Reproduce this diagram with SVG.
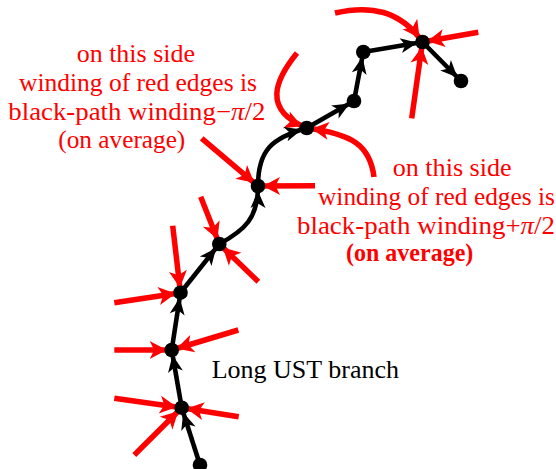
<svg xmlns="http://www.w3.org/2000/svg" width="556" height="469" viewBox="0 0 556 469">
<style>
.red{fill:none;stroke:#ff0000;stroke-width:5.5}
.blk{fill:none;stroke:#000;stroke-width:4.6}
.node{fill:#000}
.t{font-family:"Liberation Serif","Times New Roman",serif;font-size:25px}
.rt{fill:#ff0000}
</style>
<defs>
<path id="rh" d="M-5,0 L-22,-9 L-17.5,0 L-22,9 z" fill="#ff0000"/>
<path id="bh" d="M-5,0 L-22,-7.5 L-17.5,0 L-22,7.5 z" fill="#000"/>
</defs>
<g id="connectors">
<path class="red" d="M114.3,398.3 L181.7,407.7"/>
<path class="red" d="M238.7,416.7 L181.7,407.7"/>
<path class="red" d="M134.3,455 L181.7,407.7"/>
<path class="red" d="M114.3,350 L171.7,350"/>
<path class="red" d="M238.3,330 L171.7,350"/>
<path class="red" d="M114.3,302.7 L180.5,292.7"/>
<path class="red" d="M172.7,225.7 L180.5,292.7"/>
<path class="red" d="M200.7,196.7 L219.3,244"/>
<path class="red" d="M258.3,281.7 L219.3,244"/>
<path class="red" d="M315,185.7 L258,186"/>
<path class="red" d="M201.7,138.3 L258,186"/>
<path class="red" d="M297,53 C275,80 262,110 306.7,128"/>
<path class="red" d="M374,177 C370,145 352,134 306.7,128"/>
<path class="red" d="M335,13 C370,5 400,10 422.5,42"/>
<path class="red" d="M478.3,32.3 L422.5,42"/>
<path class="red" d="M411.7,118.3 L422.5,42"/>
<use href="#rh" transform="translate(181.7,407.7) rotate(7.9)"/>
<use href="#rh" transform="translate(181.7,407.7) rotate(189)"/>
<use href="#rh" transform="translate(181.7,407.7) rotate(-44.9)"/>
<use href="#rh" transform="translate(171.7,350) rotate(0)"/>
<use href="#rh" transform="translate(171.7,350) rotate(163.3)"/>
<use href="#rh" transform="translate(180.5,292.7) rotate(-8.6)"/>
<use href="#rh" transform="translate(180.5,292.7) rotate(83.4)"/>
<use href="#rh" transform="translate(219.3,244) rotate(68.5)"/>
<use href="#rh" transform="translate(219.3,244) rotate(224)"/>
<use href="#rh" transform="translate(258,186) rotate(179.7)"/>
<use href="#rh" transform="translate(258,186) rotate(40.3)"/>
<use href="#rh" transform="translate(306.7,128) rotate(21.9)"/>
<use href="#rh" transform="translate(306.7,128) rotate(187.5)"/>
<use href="#rh" transform="translate(422.5,42) rotate(54.9)"/>
<use href="#rh" transform="translate(422.5,42) rotate(170.1)"/>
<use href="#rh" transform="translate(422.5,42) rotate(-81.9)"/>
<path class="blk" d="M200,465 L181.7,407.7"/>
<path class="blk" d="M181.7,407.7 L171.7,350"/>
<path class="blk" d="M171.7,350 L180.5,292.7"/>
<path class="blk" d="M180.5,292.7 L219.3,244"/>
<path class="blk" d="M219.3,244 C245,230 258,218 258,186"/>
<path class="blk" d="M258,186 C258,150 272,138 306.7,128"/>
<path class="blk" d="M306.7,128 L354,101"/>
<path class="blk" d="M354,101 L363.3,52"/>
<path class="blk" d="M363.3,52 L422.5,42"/>
<path class="blk" d="M422.5,42 L461,81"/>
<use href="#bh" transform="translate(181.7,407.7) rotate(252.3)"/>
<use href="#bh" transform="translate(171.7,350) rotate(260.2)"/>
<use href="#bh" transform="translate(180.5,292.7) rotate(-81.3)"/>
<use href="#bh" transform="translate(219.3,244) rotate(-51.5)"/>
<use href="#bh" transform="translate(258,186) rotate(-90)"/>
<use href="#bh" transform="translate(306.7,128) rotate(-16.1)"/>
<use href="#bh" transform="translate(354,101) rotate(-29.7)"/>
<use href="#bh" transform="translate(363.3,52) rotate(-79.3)"/>
<use href="#bh" transform="translate(422.5,42) rotate(-9.6)"/>
<use href="#bh" transform="translate(461,81) rotate(45.4)"/>
</g>
<g id="n0"><circle class="node" cx="200" cy="465" r="7.3"/></g>
<g id="n1"><circle class="node" cx="181.7" cy="407.7" r="7.3"/></g>
<g id="n2"><circle class="node" cx="171.7" cy="350" r="7.3"/></g>
<g id="n3"><circle class="node" cx="180.5" cy="292.7" r="7.3"/></g>
<g id="n4"><circle class="node" cx="219.3" cy="244" r="7.3"/></g>
<g id="n5"><circle class="node" cx="258" cy="186" r="7.3"/></g>
<g id="n6"><circle class="node" cx="306.7" cy="128" r="7.3"/></g>
<g id="n7"><circle class="node" cx="354" cy="101" r="7.3"/></g>
<g id="n8"><circle class="node" cx="363.3" cy="52" r="7.3"/></g>
<g id="n9"><circle class="node" cx="422.5" cy="42" r="7.3"/></g>
<g id="n10"><circle class="node" cx="461" cy="81" r="7.3"/></g>
<g id="label-left" class="t rt">
<text x="76.7" y="61.7" textLength="118.3" lengthAdjust="spacingAndGlyphs">on this side</text>
<text x="19" y="90.5" textLength="238" lengthAdjust="spacingAndGlyphs">winding of red edges is</text>
<text x="8.3" y="120" textLength="257" lengthAdjust="spacingAndGlyphs">black-path winding−<tspan font-style="italic">π</tspan>/2</text>
<text x="58.3" y="148" textLength="127" lengthAdjust="spacingAndGlyphs">(on average)</text>
</g>
<g id="label-right" class="t rt">
<text x="392.7" y="175.7" textLength="119" lengthAdjust="spacingAndGlyphs">on this side</text>
<text x="318" y="204.5" textLength="237" lengthAdjust="spacingAndGlyphs">winding of red edges is</text>
<text x="297" y="234" textLength="258" lengthAdjust="spacingAndGlyphs">black-path winding+<tspan font-style="italic">π</tspan>/2</text>
<text x="346" y="261" textLength="127.3" lengthAdjust="spacingAndGlyphs" font-weight="bold">(on average)</text>
</g>
<g id="label-branch" class="t">
<text x="211.7" y="378" textLength="187.3" lengthAdjust="spacingAndGlyphs">Long UST branch</text>
</g>
</svg>
